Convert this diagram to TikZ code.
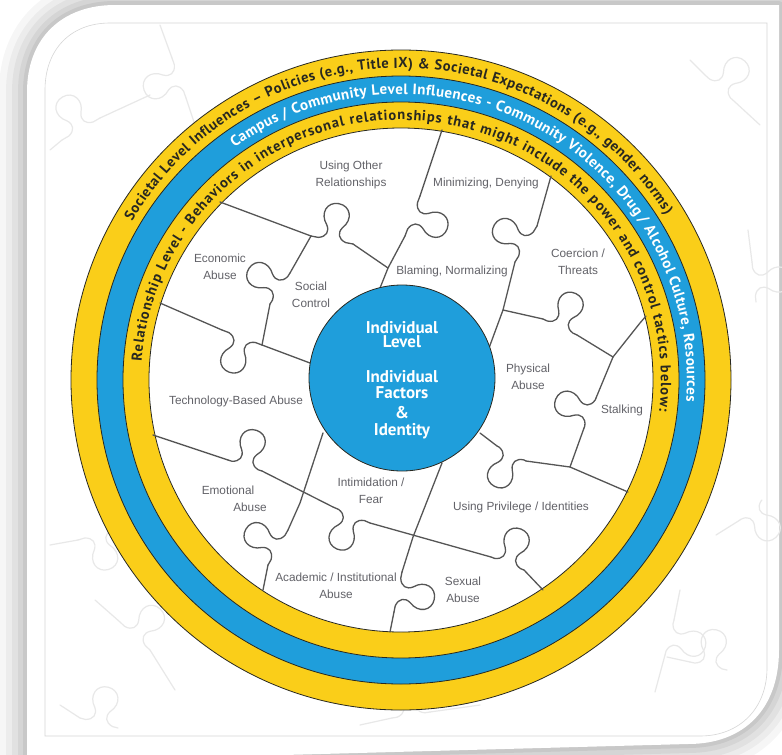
\documentclass[tikz,border=0pt]{standalone}
\usepackage{fontspec}
\setmainfont{Liberation Sans}
\newfontfamily\ptsans{PT Sans}
\usetikzlibrary{calc,decorations.text}
\definecolor{yel}{RGB}{250,206,25}
\definecolor{blu}{RGB}{31,158,219}
\definecolor{labc}{RGB}{98,98,104}
\definecolor{ink}{RGB}{40,40,32}
\definecolor{puzc}{RGB}{85,85,85}
\newcommand\ringfontA{\ptsans\bfseries\fontsize{14.5}{14.5}\selectfont}
\newcommand\ringfontB{\ptsans\bfseries\fontsize{15}{15}\selectfont}
\newcommand\ringfontC{\ptsans\bfseries\fontsize{14.5}{14.5}\selectfont}
% segment from #2 to #3 with a jigsaw tab in the middle; #4 = 1 (left) or -1 (right)
\newcommand\tabseg[4][puz]{%
  \draw[#1] let \p1=($(#3)-(#2)$), \n1={veclen(\x1,\y1)}, \n2={atan2(\y1,\x1)} in
    [shift={(#2)}, rotate=\n2, yscale=#4]
    (0,0) -- ({\n1/2-14},0)
    .. controls ({\n1/2-6},2) and ({\n1/2-4},8) .. ({\n1/2-8},14)
    .. controls ({\n1/2-17},24) and ({\n1/2-12},37) .. ({\n1/2},37)
    .. controls ({\n1/2+12},37) and ({\n1/2+17},24) .. ({\n1/2+8},14)
    .. controls ({\n1/2+4},8) and ({\n1/2+6},2) .. ({\n1/2+14},0)
    -- ({\n1},0);}
\begin{document}
\begin{tikzpicture}[x=1pt,y=1pt,
  puz/.style={draw=puzc, line width=1.3pt, line join=round, line cap=round},
  faint/.style={draw=black!9, line width=1.2pt, line join=round, line cap=round},
  lab/.style={font=\fontsize{11.8}{16.5}\selectfont, text=labc, align=center, inner sep=0pt},
  ctr/.style={font=\ptsans\bfseries\fontsize{17}{17}\selectfont, text=white, inner sep=0pt},
  ringline/.style={draw=ink, line width=0.8pt}]
\useasboundingbox (0,0) rectangle (782,-755);
\fill[white] (0,0) rectangle (782,-755);
% card shadow
\def\cardpath{(27,-762) -- (27,-92) .. controls (27,-38) and (62,-5) .. (115,-5) -- (779,-5) -- (779,-650) .. controls (779,-708) and (745,-744) .. (688,-744) -- (27,-762) -- cycle}
\foreach \w/\o in {56/0.035,42/0.04,30/0.045,18/0.05,8/0.06}
  \draw[line width=\w pt, black, opacity=\o, line join=round] \cardpath;
\fill[white] \cardpath;
% inner frame
\draw[black!16, line width=0.6pt] (45,-736) -- (45,-90) .. controls (45,-50) and (70,-23) .. (110,-23) -- (767,-23) -- (767,-668) .. controls (767,-708) and (740,-736) .. (700,-736) -- cycle;
% faint background puzzle
\draw[faint] (50,-150) -- (62,-140);
\tabseg[faint]{62,-140}{100,-118}{1}
\draw[faint] (100,-118) -- (150,-95);
\draw[faint] (160,-25) -- (172,-58);
\tabseg[faint]{172,-58}{186,-98}{-1}
\draw[faint] (186,-98) -- (200,-140);
\draw[faint] (50,-545) -- (78,-540);
\tabseg[faint]{78,-540}{118,-528}{-1}
\draw[faint] (118,-528) -- (140,-520);
\draw[faint] (95,-600) -- (120,-622);
\tabseg[faint]{120,-622}{150,-650}{1}
\draw[faint] (150,-650) -- (175,-690);
\draw[faint] (60,-705) -- (80,-718);
\tabseg[faint]{80,-718}{118,-728}{1}
\draw[faint] (360,-725) -- (392,-718);
\tabseg[faint]{392,-718}{430,-712}{1}
\draw[faint] (430,-712) -- (480,-705);
\draw[faint] (690,-60) -- (705,-75);
\tabseg[faint]{705,-75}{735,-102}{1}
\draw[faint] (735,-102) -- (760,-125);
\draw[faint] (748,-230) -- (752,-262);
\tabseg[faint]{752,-262}{756,-302}{1}
\draw[faint] (716,-535) -- (740,-520);
\tabseg[faint]{740,-520}{762,-500}{-1}
\draw[faint] (680,-590) -- (674,-620);
\tabseg[faint]{674,-620}{665,-655}{1}
\draw[faint] (665,-655) -- (655,-692);
\draw[faint] (667,-657) -- (690,-662);
\tabseg[faint]{690,-662}{727,-670}{1}
% rings
\coordinate (C) at (401,-380);
\fill[yel] (C) circle (330);
\fill[blu] (C) circle (304);
\fill[yel] (C) circle (278);
\fill[white] (C) circle (252);
\foreach \r in {330,304,278,252} \draw[ringline] (C) circle (\r);
% ring texts
\path[decorate, decoration={text along path, text align={fit to path}, text color=ink,
  text={|\ringfontA|Societal Level Influences – Policies (e.g., Title IX) {\&} Societal Expectations (e.g., gender norms)}}]
  ($(C)+(149.5:312)$) arc[start angle=149.5, end angle=32, radius=312];
\path[decorate, decoration={text along path, text align={fit to path}, text color=white,
  text={|\ringfontB|Campus / Community Level Influences - Community Violence, Drug / Alcohol Culture, Resources}}]
  ($(C)+(125.6:286)$) arc[start angle=125.6, end angle=-4.4, radius=286];
\path[decorate, decoration={text along path, text align={fit to path}, text color=ink,
  text={|\ringfontC|Relationship Level - Behaviors in interpersonal relationships that might include the power and control tactics below:}}]
  ($(C)+(176:260)$) arc[start angle=176, end angle=-7, radius=260];
% puzzle coordinates
\coordinate (a0) at (220,-202); \coordinate (a1) at (311,-236); \coordinate (a2) at (353,-244); \coordinate (a3) at (388,-268);
\coordinate (d0) at (442,-130); \coordinate (d1) at (420,-196); \coordinate (d2) at (405,-236); \coordinate (d3) at (380,-288);
\coordinate (b1) at (290,-273); \coordinate (b2) at (270,-304);
\coordinate (c0) at (160,-303); \coordinate (c1) at (222,-330); \coordinate (c2) at (262,-345); \coordinate (c3) at (310,-363);
\coordinate (e0) at (551,-176); \coordinate (e1) at (537,-226); \coordinate (e2) at (515,-262); \coordinate (e3) at (503,-310); \coordinate (e4) at (489,-348);
\coordinate (f1) at (543,-319); \coordinate (f2) at (577,-335); \coordinate (j1) at (613,-357);
\coordinate (h1) at (640,-323); \coordinate (h2) at (646,-316);
\coordinate (i1) at (596,-398); \coordinate (i2) at (584,-428); \coordinate (j2) at (570,-467);
\coordinate (g0) at (480,-433); \coordinate (g1) at (497,-446); \coordinate (g2) at (526,-461); \coordinate (g3) at (628,-492);
\coordinate (k0) at (442,-463); \coordinate (k1) at (413,-537); \coordinate (k2) at (402,-572); \coordinate (k3) at (394,-612); \coordinate (k4) at (390,-632);
\coordinate (m0) at (153,-435); \coordinate (m1) at (228,-460); \coordinate (m2) at (262,-471); \coordinate (m3) at (333,-507);
\coordinate (m4) at (370,-523); \coordinate (m5) at (491,-557); \coordinate (m6) at (524,-570); \coordinate (m7) at (543,-590);
\coordinate (n0) at (323,-433); \coordinate (n1) at (300,-503); \coordinate (n2) at (288,-530); \coordinate (n3) at (268,-565); \coordinate (n4) at (263,-590);
% puzzle lines
\draw[puz] (a0) -- (a1); \tabseg{a1}{a2}{1} \draw[puz] (a2) -- (a3);
\draw[puz] (d0) -- (d1); \tabseg{d1}{d2}{1} \draw[puz] (d2) -- (a3) -- (d3);
\draw[puz] (a1) -- (b1); \tabseg{b1}{b2}{-1} \draw[puz] (b2) -- (c2);
\draw[puz] (c0) -- (c1); \tabseg{c1}{c2}{-1} \draw[puz] (c2) -- (c3);
\draw[puz] (e0) -- (e1); \tabseg{e1}{e2}{-1} \draw[puz] (e2) -- (e3) -- (e4);
\draw[puz] (e3) -- (f1); \tabseg{f1}{f2}{1} \draw[puz] (f2) -- (j1);
\draw[puz] (j1) -- (h1) -- (h2);
\draw[puz] (j1) -- (i1); \tabseg{i1}{i2}{-1} \draw[puz] (i2) -- (j2);
\draw[puz] (g0) -- (g1); \tabseg{g1}{g2}{-1} \draw[puz] (g2) -- (j2) -- (g3);
\draw[puz] (k0) -- (k1) -- (k2); \tabseg{k2}{k3}{1} \draw[puz] (k3) -- (k4);
\draw[puz] (m0) -- (m1); \tabseg{m1}{m2}{1} \draw[puz] (m2) -- (m3); \tabseg{m3}{m4}{-1}
\draw[puz] (m4) -- (m5); \tabseg{m5}{m6}{1} \draw[puz] (m6) -- (m7);
\draw[puz] (n0) -- (n1) -- (n2); \tabseg{n2}{n3}{-1} \draw[puz] (n3) -- (n4);
% center circle
\coordinate (Cc) at (402,-378);
\fill[blu] (Cc) circle (93);
\draw[ringline] (Cc) circle (93);
\node[ctr] (t1) at (402,-328) {Individual};
\node[ctr] (t2) at (402,-342) {Level};
\node[ctr] (t3) at (402,-377) {Individual};
\node[ctr] (t4) at (402,-393) {Factors};
\node[ctr] (t5) at (402,-413) {\&};
\node[ctr] (t6) at (402,-431) {Identity};
% labels
\node[lab] (uor) at (351,-175) {Using Other\\Relationships};
\node[lab] (mind) at (486,-183) {Minimizing, Denying};
\node[lab] (econ) at (220,-267) {Economic\\Abuse};
\node[lab] (soc) at (311,-295) {Social\\Control};
\node[lab] (blam) at (452,-271) {Blaming, Normalizing};
\node[lab] (coer) at (578,-262) {Coercion /\\Threats};
\node[lab] (phys) at (528,-377) {Physical\\Abuse};
\node[lab] (stalk) at (622,-410) {Stalking};
\node[lab] (tech) at (236,-401) {Technology-Based Abuse};
\node[lab] (emo1) at (228,-490) {Emotional};
\node[lab] (emo2) at (250,-507) {Abuse};
\node[lab] (intim) at (371,-491) {Intimidation /\\Fear};
\node[lab] (priv) at (521,-507) {Using Privilege / Identities};
\node[lab] (acad) at (336,-586) {Academic / Institutional\\Abuse};
\node[lab] (sex) at (463,-590) {Sexual\\Abuse};
\end{tikzpicture}
\end{document}
